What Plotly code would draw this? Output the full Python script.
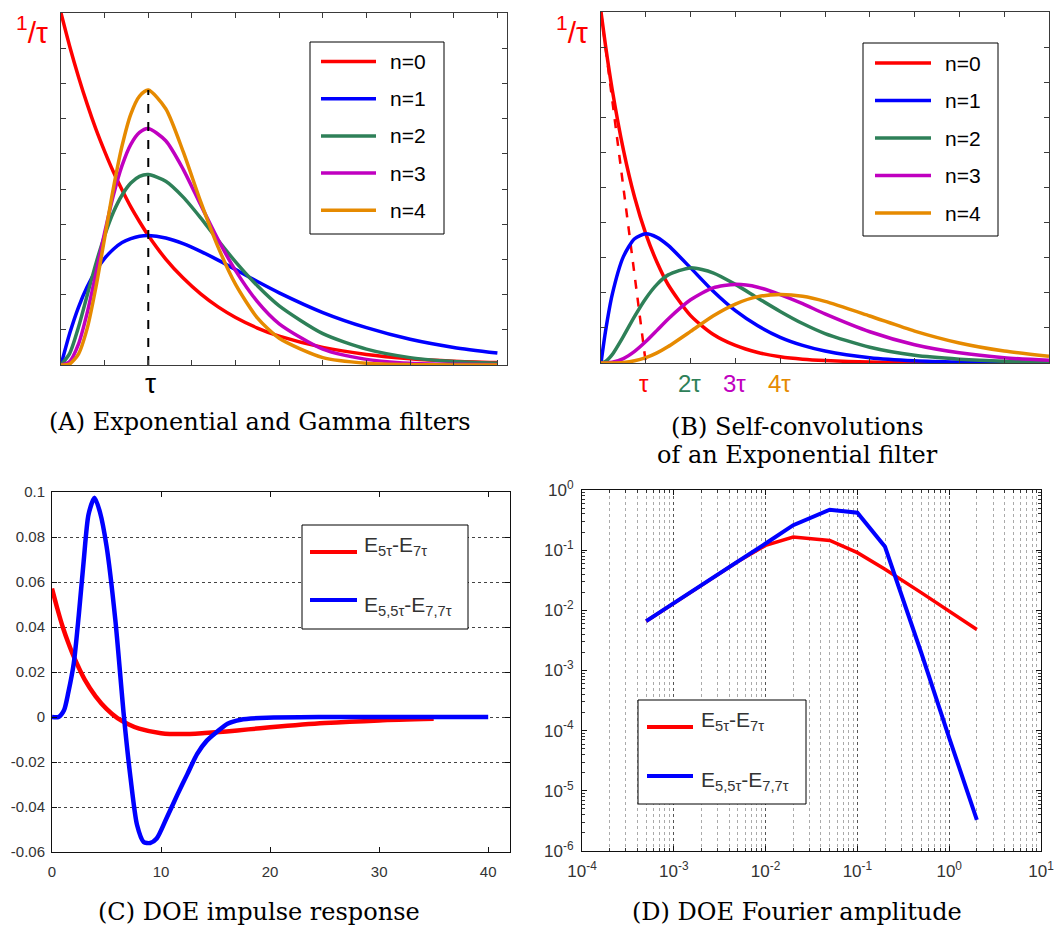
import plotly.graph_objects as go

W, H = 1056, 928

# ---------------- data ----------------
# (A) Exponential and Gamma filters (time in units of tau, amplitude in units of 1/tau)
a_t = [0, 0.1, 0.2, 0.3, 0.4, 0.5, 0.6, 0.7, 0.8, 0.9, 1.0, 1.2, 1.4, 1.6, 1.8, 2.0, 2.25, 2.5, 3.0, 3.5, 4.0, 4.5, 5.0]
a_n0 = [1.0, 0.905, 0.819, 0.741, 0.670, 0.607, 0.549, 0.497, 0.449, 0.407, 0.368, 0.301, 0.247, 0.202, 0.165, 0.135, 0.105, 0.082, 0.050, 0.030, 0.018, 0.011, 0.007]
a_n1 = [0, 0.090, 0.164, 0.222, 0.268, 0.303, 0.329, 0.348, 0.359, 0.366, 0.368, 0.361, 0.345, 0.323, 0.298, 0.271, 0.237, 0.205, 0.149, 0.106, 0.073, 0.050, 0.034]
a_n2 = [0, 0.033, 0.107, 0.198, 0.288, 0.368, 0.434, 0.483, 0.517, 0.536, 0.541, 0.522, 0.477, 0.418, 0.354, 0.293, 0.225, 0.168, 0.089, 0.045, 0.021, 0.010, 0.005]
a_n3 = [0, 0.010, 0.059, 0.148, 0.260, 0.376, 0.482, 0.567, 0.627, 0.661, 0.672, 0.637, 0.556, 0.455, 0.356, 0.268, 0.180, 0.117, 0.045, 0.016, 0.005, 0.002, 0.001]
a_n4 = [0, 0.003, 0.031, 0.104, 0.221, 0.361, 0.502, 0.623, 0.713, 0.764, 0.781, 0.728, 0.606, 0.464, 0.335, 0.229, 0.134, 0.076, 0.021, 0.005, 0.001, 0.0003, 0.0001]
a_tau_x = [1.0, 1.0]
a_tau_y = [0.0, 0.781]

# (B) Self-convolutions of an Exponential filter
b_t = [0, 0.1, 0.25, 0.5, 0.75, 1, 1.25, 1.5, 2, 2.5, 3, 3.5, 4, 4.5, 5, 6, 7, 8, 9, 10]
b_n0 = [1.0, 0.905, 0.779, 0.607, 0.472, 0.368, 0.287, 0.223, 0.135, 0.082, 0.050, 0.030, 0.018, 0.011, 0.007, 0.0025, 0.0009, 0.0003, 0.0001, 0.00005]
b_n1 = [0, 0.090, 0.195, 0.303, 0.354, 0.368, 0.358, 0.335, 0.271, 0.205, 0.149, 0.106, 0.073, 0.050, 0.034, 0.015, 0.0064, 0.0027, 0.0011, 0.0005]
b_n2 = [0, 0.0045, 0.024, 0.076, 0.133, 0.184, 0.224, 0.251, 0.271, 0.257, 0.224, 0.185, 0.147, 0.1125, 0.084, 0.045, 0.022, 0.011, 0.005, 0.0023]
b_n3 = [0, 0.0002, 0.002, 0.0126, 0.033, 0.061, 0.093, 0.1255, 0.180, 0.214, 0.224, 0.216, 0.195, 0.169, 0.140, 0.089, 0.052, 0.029, 0.015, 0.0076]
b_n4 = [0, 0.0, 0.0001, 0.0016, 0.0062, 0.0153, 0.029, 0.047, 0.090, 0.134, 0.168, 0.189, 0.195, 0.190, 0.1755, 0.134, 0.091, 0.057, 0.034, 0.019]
b_tan_x = [0, 1]
b_tan_y = [1, 0]

# (C) DOE impulse response
c_t_red = [0, 0.5, 1, 1.5, 2, 3, 4, 5, 6, 7, 8, 10, 12, 14, 16, 18, 20, 25, 30, 35]
c_red = [0.0571, 0.048, 0.0398, 0.0329, 0.0268, 0.0166, 0.0092, 0.0036, -0.0005, -0.0032, -0.0052, -0.0072, -0.0076, -0.0071, -0.0064, -0.0055, -0.0046, -0.0027, -0.0015, -0.0008]
c_t_blue = [0, 0.6, 1.1, 1.5, 2.0, 2.45, 2.9, 3.35, 3.9, 4.4, 5.0, 5.8, 6.6, 7.2, 7.8, 8.4, 9.0, 9.6, 10.5, 11.5, 12.4, 13.3, 14.2, 15.1, 16.1, 17.3, 19.7, 25, 30, 35, 40]
c_blue = [0, 0, 0.003, 0.011, 0.024, 0.045, 0.069, 0.090, 0.0975, 0.091, 0.076, 0.0435, 0, -0.027, -0.048, -0.0555, -0.056, -0.054, -0.045, -0.0345, -0.0255, -0.0165, -0.0105, -0.0067, -0.003, -0.0012, -0.0003, 0, 0, 0, 0]
c_yticks = [-0.06, -0.04, -0.02, 0, 0.02, 0.04, 0.06, 0.08, 0.1]
c_yticktext = ["-0.06", "-0.04", "-0.02", "0", "0.02", "0.04", "0.06", "0.08", "0.1"]
c_xticks = [0, 10, 20, 30, 40]

# (D) DOE Fourier amplitude
d_f = [5e-4, 1e-3, 2e-3, 5e-3, 1e-2, 2e-2, 5e-2, 1e-1, 2e-1, 5e-1, 1, 2]
d_red = [0.0066, 0.0133, 0.026, 0.065, 0.12, 0.165, 0.145, 0.091, 0.048, 0.0195, 0.0097, 0.0048]
d_blue = [0.0066, 0.0133, 0.026, 0.065, 0.129, 0.26, 0.47, 0.42, 0.114, 0.0019, 0.000076, 0.0000033]
d_xticks = [1e-4, 1e-3, 1e-2, 1e-1, 1e0, 1e1]
d_xticktext = ["10<sup>-4</sup>", "10<sup>-3</sup>", "10<sup>-2</sup>", "10<sup>-1</sup>", "10<sup>0</sup>", "10<sup>1</sup>"]
d_yticks = [1e-6, 1e-5, 1e-4, 1e-3, 1e-2, 1e-1, 1e0]
d_yticktext = ["10<sup>-6</sup>", "10<sup>-5</sup>", "10<sup>-4</sup>", "10<sup>-3</sup>", "10<sup>-2</sup>", "10<sup>-1</sup>", "10<sup>0</sup>"]

n_labels = ["n=0", "n=1", "n=2", "n=3", "n=4"]
doe_labels = ["E<sub>5τ</sub>-E<sub>7τ</sub>", "E<sub>5,5τ</sub>-E<sub>7,7τ</sub>"]

# ---------------- style ----------------
RED, BLUE, GREEN, MAG, ORANGE = "#ff0000", "#0000ff", "#2e8058", "#c000c0", "#e68a00"
n_colors = [RED, BLUE, GREEN, MAG, ORANGE]
SANS = "Liberation Sans, Arial, sans-serif"
SERIF = "DejaVu Serif, serif"


def dom_x(a, b):
    return [a / W, b / W]


def dom_y(top, bottom):
    return [1 - bottom / H, 1 - top / H]


def px(x):
    return x / W


def py(y):
    return 1 - y / H


fig = go.Figure()
spl = dict(shape="spline", smoothing=0.7)

# A
for ys, c in zip([a_n0, a_n1, a_n2, a_n3, a_n4], n_colors):
    fig.add_trace(go.Scatter(x=a_t, y=ys, mode="lines", line=dict(color=c, width=3.5, **spl),
                             xaxis="x", yaxis="y", showlegend=False))
fig.add_trace(go.Scatter(x=a_tau_x, y=a_tau_y, mode="lines", line=dict(color="black", width=2, dash="dash"),
                         xaxis="x", yaxis="y", showlegend=False))
# B
fig.add_trace(go.Scatter(x=b_tan_x, y=b_tan_y, mode="lines", line=dict(color=RED, width=2.5, dash="dash"),
                         xaxis="x2", yaxis="y2", showlegend=False))
for ys, c in zip([b_n0, b_n1, b_n2, b_n3, b_n4], n_colors):
    fig.add_trace(go.Scatter(x=b_t, y=ys, mode="lines", line=dict(color=c, width=3.5, **spl),
                             xaxis="x2", yaxis="y2", showlegend=False))
# C
fig.add_trace(go.Scatter(x=c_t_red, y=c_red, mode="lines", line=dict(color=RED, width=4.5, **spl),
                         xaxis="x3", yaxis="y3", showlegend=False))
fig.add_trace(go.Scatter(x=c_t_blue, y=c_blue, mode="lines", line=dict(color=BLUE, width=4.5, **spl),
                         xaxis="x3", yaxis="y3", showlegend=False))
# D
fig.add_trace(go.Scatter(x=d_f, y=d_red, mode="lines", line=dict(color=RED, width=3.5),
                         xaxis="x4", yaxis="y4", showlegend=False))
fig.add_trace(go.Scatter(x=d_f, y=d_blue, mode="lines", line=dict(color=BLUE, width=4),
                         xaxis="x4", yaxis="y4", showlegend=False))

ab_axis = dict(showline=True, linecolor="#3a3a3a", linewidth=1, mirror="ticks", ticks="inside",
               ticklen=5, tickcolor="#3a3a3a", showticklabels=False, showgrid=False, zeroline=False,
               fixedrange=True, automargin=False)
cd_axis = dict(showline=True, linecolor="#111", linewidth=1, mirror="ticks", ticks="inside",
               ticklen=5, tickcolor="#111", zeroline=False, fixedrange=True, automargin=False)
c_font = dict(family=SANS, size=15, color="#333")
d_font = dict(family=SANS, size=17, color="#333")

minor_x = [m * 10.0 ** k for k in range(-4, 1) for m in range(2, 10)]
minor_y = [m * 10.0 ** k for k in range(-6, 0) for m in range(2, 10)]

fig.update_layout(
    template="none",
    width=W, height=H, margin=dict(l=0, r=0, t=0, b=0, pad=0), autosize=False,
    paper_bgcolor="white", plot_bgcolor="white",
    xaxis=dict(domain=dom_x(61, 507), range=[0, 5.11], tick0=0, dtick=0.5, anchor="y", **ab_axis),
    yaxis=dict(domain=dom_y(13, 365), range=[0, 1], tick0=0, dtick=0.1, anchor="x", **ab_axis),
    xaxis2=dict(domain=dom_x(601, 1049), range=[0, 10], tick0=0, dtick=1, anchor="y2", **ab_axis),
    yaxis2=dict(domain=dom_y(12, 363), range=[0, 1], tick0=0, dtick=0.1, anchor="x2", **ab_axis),
    xaxis3=dict(domain=dom_x(52, 510), range=[0, 42], tickmode="array", tickvals=c_xticks,
                anchor="y3", showgrid=False, ticklabelstandoff=6, tickfont=c_font, **cd_axis),
    yaxis3=dict(domain=dom_y(492, 852), range=[-0.06, 0.1], tickmode="array", tickvals=c_yticks,
                ticktext=c_yticktext, anchor="x3", showgrid=True, griddash="dot", gridcolor="#444",
                gridwidth=1, ticklabelstandoff=3, tickfont=c_font, **cd_axis),
    xaxis4=dict(domain=dom_x(582, 1041), type="log", range=[-4, 1], tickmode="array", tickvals=d_xticks,
                ticktext=d_xticktext, anchor="y4", showgrid=True, griddash="dot", gridcolor="#555",
                ticklabelstandoff=5, tickfont=d_font,
                minor=dict(tickvals=minor_x, showgrid=True, griddash="dot", gridcolor="#aaa",
                           ticks="inside", ticklen=3, tickcolor="#333"),
                **cd_axis),
    yaxis4=dict(domain=dom_y(490, 851), type="log", range=[-6, 0], tickmode="array", tickvals=d_yticks,
                ticktext=d_yticktext, anchor="x4", showgrid=False, ticklabelstandoff=4, tickfont=d_font,
                minor=dict(tickvals=minor_y, ticks="inside", ticklen=3, tickcolor="#333"),
                **cd_axis),
)

shapes = []
annotations = []


def ann(text, x, y, size, color="black", family=SANS, xanchor="center", yanchor="middle"):
    annotations.append(dict(text=text, x=px(x), y=py(y), xref="paper", yref="paper", showarrow=False,
                            xanchor=xanchor, yanchor=yanchor,
                            font=dict(size=size, color=color, family=family)))


def box(x0, y0, x1, y1):
    shapes.append(dict(type="rect", xref="paper", yref="paper", x0=px(x0), x1=px(x1), y0=py(y1), y1=py(y0),
                       line=dict(color="black", width=1), fillcolor="white", layer="above"))


def sample(x0, x1, y, color, width):
    shapes.append(dict(type="line", xref="paper", yref="paper", x0=px(x0), x1=px(x1), y0=py(y), y1=py(y),
                       line=dict(color=color, width=width), layer="above"))


# legend A
box(310, 42, 444, 234)
for i, (lab, c) in enumerate(zip(n_labels, n_colors)):
    yy = 61.5 + i * 37.2
    sample(321, 376, yy, c, 3.5)
    ann(lab, 388, yy, 21, xanchor="left")
# legend B
box(863, 43, 998, 236)
for i, (lab, c) in enumerate(zip(n_labels, n_colors)):
    yy = 63 + i * 37.5
    sample(875, 931, yy, c, 3.5)
    ann(lab, 943, yy, 21, xanchor="left")
# legend C
box(302, 525, 468, 629)
sample(310, 357, 552, RED, 4)
sample(310, 357, 600, BLUE, 4)
ann(doe_labels[0], 362, 546, 21, color="#333", xanchor="left")
ann(doe_labels[1], 362, 606, 21, color="#333", xanchor="left")
# legend D
box(638, 700, 806, 804)
sample(647, 693, 727, RED, 4)
sample(647, 693, 776, BLUE, 4)
ann(doe_labels[0], 699, 721, 21, color="#333", xanchor="left")
ann(doe_labels[1], 699, 781, 21, color="#333", xanchor="left")

# axis labels in A and B
ann("<sup>1</sup>/τ", 32, 30, 30, color=RED)
ann("<sup>1</sup>/τ", 572, 30, 30, color=RED)
ann("τ", 150, 384, 28)
ann("τ", 644, 383, 24, color=RED)
ann("2τ", 689, 383, 24, color=GREEN)
ann("3τ", 734, 383, 24, color=MAG)
ann("4τ", 779, 383, 24, color=ORANGE)

# captions
ann("(A) Exponential and Gamma filters", 260, 422, 24, family=SERIF)
ann("(B) Self-convolutions", 797, 427, 24, family=SERIF)
ann("of an Exponential filter", 797, 455, 24, family=SERIF)
ann("(C) DOE impulse response", 259, 912, 24, family=SERIF)
ann("(D) DOE Fourier amplitude", 797, 912, 24, family=SERIF)

fig.update_layout(shapes=shapes, annotations=annotations)
fig.write_html("out.html", config={"displayModeBar": False},
               post_script="document.body.style.margin='0';document.body.style.overflow='hidden';")
